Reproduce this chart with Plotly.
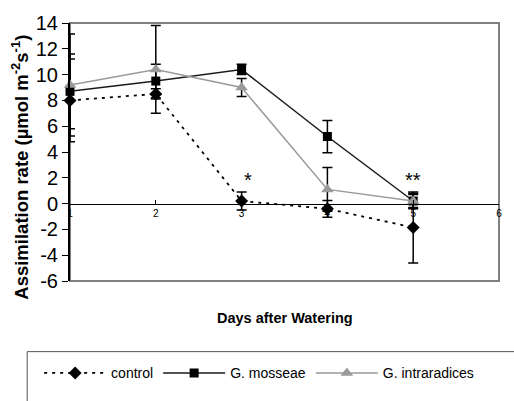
import plotly.graph_objects as go

days = [1, 2, 3, 4, 5]
control = [8.0, 8.5, 0.2, -0.4, -1.85]
control_err = [3.2, 0.4, 0.7, 0.65, 2.75]
mosseae = [8.7, 9.5, 10.4, 5.2, 0.2]
mosseae_err = [2.9, 1.3, 0.4, 1.25, 0.6]
intraradices = [9.2, 10.4, 9.0, 1.1, 0.2]
intraradices_err = [3.95, 3.4, 0.7, 1.7, 0.5]
x_ticks = [1, 2, 3, 4, 5, 6]
y_ticks = [-6, -4, -2, 0, 2, 4, 6, 8, 10, 12, 14]
sig_marks = [(3.07, "*"), (5.0, "**")]

FONT = "Liberation Sans, Arial, sans-serif"
err_style = dict(type="data", visible=True, color="black", thickness=1.5, width=5)

fig = go.Figure()
fig.add_trace(go.Scatter(
    x=days, y=control, name="control", mode="lines+markers",
    line=dict(color="black", width=1.8, dash="3px,5px"),
    marker=dict(symbol="diamond", size=10, color="black"),
    error_y=dict(array=control_err, **err_style), cliponaxis=False))
fig.add_trace(go.Scatter(
    x=days, y=mosseae, name="G. mosseae", mode="lines+markers",
    line=dict(color="#1a1a1a", width=1.5),
    marker=dict(symbol="square", size=9, color="black"),
    error_y=dict(array=mosseae_err, **err_style), cliponaxis=False))
fig.add_trace(go.Scatter(
    x=days, y=intraradices, name="G. intraradices", mode="lines+markers",
    line=dict(color="#9a9a9a", width=1.5),
    marker=dict(symbol="triangle-up", size=11, color="#9a9a9a"),
    error_y=dict(array=intraradices_err, **err_style), cliponaxis=False))

for xv, txt in sig_marks:
    fig.add_annotation(x=xv, y=1.8, text=txt, showarrow=False,
                       font=dict(family=FONT, size=20, color="black"))

fig.add_annotation(xref="paper", yref="paper", x=0.5, y=-0.143, yanchor="middle",
                   text="<b>Days after Watering</b>", showarrow=False,
                   font=dict(family=FONT, size=14.5, color="black"))

fig.add_annotation(xref="paper", yref="paper", x=-0.116, y=0.44, xanchor="center",
                   yanchor="middle", textangle=-90, showarrow=False,
                   text="<b>Assimilation rate (µmol m<sup>-2</sup>s<sup>-1</sup>)</b>",
                   font=dict(family=FONT, size=18.5, color="black"))

# plot frame
fig.add_shape(type="rect", xref="x domain", yref="y domain", x0=0, x1=1, y0=0, y1=1,
              line=dict(color="#808080", width=2), layer="below")
# legend frame
fig.add_shape(type="rect", xref="paper", yref="paper", x0=-0.0998, x1=1.14,
              y0=-0.2738, y1=-0.52, line=dict(color="#555555", width=1))

fig.update_layout(
    width=514, height=401,
    margin=dict(l=70, r=13, t=23, b=115),
    paper_bgcolor="white", plot_bgcolor="white",
    font=dict(family=FONT, color="black"),
    showlegend=True,
    legend=dict(orientation="h", x=-0.072, y=-0.358, xanchor="left", yanchor="middle",
                font=dict(family=FONT, size=14), bgcolor="rgba(0,0,0,0)",
                itemwidth=62, tracegroupgap=0),
    xaxis=dict(range=[1, 6], tickvals=x_ticks, ticktext=[str(v) for v in x_ticks],
               anchor="free", position=0.3, showline=True, linecolor="black", linewidth=1,
               ticks="inside", ticklen=4, tickcolor="black", showgrid=False, zeroline=False,
               tickfont=dict(family=FONT, size=10)),
    yaxis=dict(range=[-6, 14], tickvals=y_ticks, ticktext=[str(v) for v in y_ticks],
               showline=True, linecolor="black", linewidth=2,
               ticks="outside", ticklen=6, tickcolor="black", showgrid=False, zeroline=False,
               tickfont=dict(family=FONT, size=20)),
)

fig.write_html("out.html")
